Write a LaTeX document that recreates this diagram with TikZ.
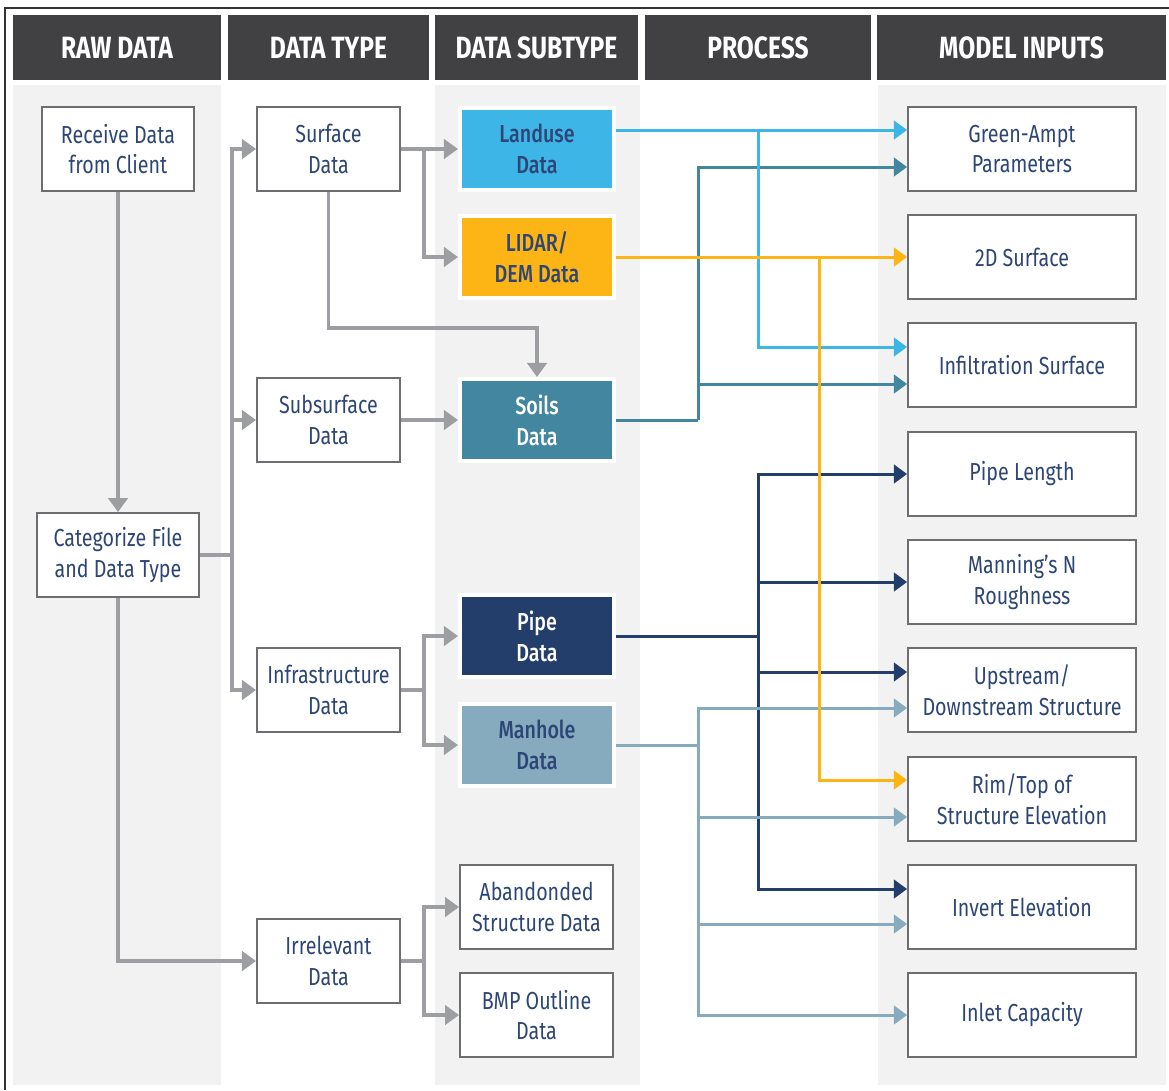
\documentclass[tikz,border=0pt]{standalone}
\usepackage{fontspec}
\setmainfont{Fira Sans}[FakeStretch=0.8]
\newfontfamily\medfont{Fira Sans Medium}[FakeStretch=0.8]
\usetikzlibrary{arrows.meta}
\usetikzlibrary{positioning}

\definecolor{headgrey}{HTML}{414042}
\definecolor{bggrey}{HTML}{F2F2F2}
\definecolor{boxgrey}{HTML}{6D6E71}
\definecolor{linkgrey}{HTML}{9C9EA1}
\definecolor{navytext}{HTML}{2E4676}
\definecolor{landblue}{HTML}{3DB5E7}
\definecolor{lidaryellow}{HTML}{FDB515}
\definecolor{soilteal}{HTML}{43869F}
\definecolor{pipenavy}{HTML}{243E6C}
\definecolor{manholesteel}{HTML}{86AABE}

\tikzstyle{head}=[fill=headgrey, text=white, font=\bfseries\fontsize{17.5}{20}\selectfont, minimum height=1.3cm, inner sep=0pt]
\tikzstyle{box}=[draw=boxgrey, line width=1.1pt, fill=white, text=navytext, align=center, font=\fontsize{14}{17.5}\selectfont, minimum height=1.68cm, inner sep=0pt]
\tikzstyle{subbox}=[box, draw=white, line width=2.3pt, minimum width=3.08cm, minimum height=1.64cm, font=\medfont\fontsize{14}{17.5}\selectfont]
\tikzstyle{link}=[draw=linkgrey, line width=2pt, -{Triangle[length=8pt,width=11pt]}]
\tikzstyle{flow}=[line width=1.7pt, -{Triangle[length=7.5pt,width=10.5pt]}]

\begin{document}
\begin{tikzpicture}[x=0.02cm, y=-0.02cm]

  \useasboundingbox (0,0) rectangle (1169,1090);

  % column backgrounds and frame
  \foreach \xa/\xb in {13/221, 435/640, 878/1166}
    \fill[bggrey] (\xa,85) rectangle (\xb,1085);
  \draw[line width=1.2pt, black!80] (5,1090) -- (5,8) -- (1169,8);

  % headers
  \foreach \x/\w/\name/\label in {117/208/hraw/RAW DATA, 328.5/201/htype/DATA TYPE, 536.5/203/hsub/DATA SUBTYPE, 758/226/hproc/PROCESS, 1021.5/289/hinp/MODEL INPUTS}
    \node[head, minimum width=\w*0.02cm] (\name) at (\x,47.5) {\label};

  % raw data
  \node[box, minimum width=3.04cm] (recv) at (118,149) {Receive Data\\from Client};
  \node[box, minimum width=3.24cm] (cat) at (118,555) {Categorize File\\and Data Type};

  % data types
  \foreach \y/\name/\label in {149/surf/{Surface\\Data}, 420/subs/{Subsurface\\Data}, 690/infra/{Infrastructure\\Data}, 961/irr/{Irrelevant\\Data}}
    \node[box, minimum width=2.86cm] (\name) at (328.5,\y) {\label};

  % data subtypes
  \foreach \y/\name/\col/\tcol/\label in {149/land/landblue/navytext/{Landuse\\Data}, 257/lidar/lidaryellow/navytext/{LIDAR/\\DEM Data}, 420/soils/soilteal/white/{Soils\\Data}, 636/pipe/pipenavy/white/{Pipe\\Data}, 745/manh/manholesteel/navytext/{Manhole\\Data}}
    \node[subbox, fill=\col, text=\tcol] (\name) at (537,\y) {\label};
  \node[box, minimum width=3.06cm] (aband) at (536.5,907) {Abandonded\\Structure Data};
  \node[box, minimum width=3.06cm] (bmp) at (536.5,1015) {BMP Outline\\Data};

  % model inputs
  \foreach \y/\name/\label in {149/ga/{Green-Ampt\\Parameters}, 257/sd/{2D Surface}, 365/inf/{Infiltration Surface}, 474/plen/{Pipe Length}, 582/mann/{Manning’s N\\Roughness}, 690/ups/{Upstream/\\Downstream Structure}, 799/rim/{Rim/Top of\\Structure Elevation}, 907/inv/{Invert Elevation}, 1015/inl/{Inlet Capacity}}
    \node[box, minimum width=4.56cm] (\name) at (1022,\y) {\label};

  % grey links
  \coordinate (tj) at (232,555);
  \coordinate (sj) at (424,149);
  \coordinate (sbend) at (537,328);
  \coordinate (ij) at (424,690);
  \coordinate (rj) at (424,961);
  \draw[link] (recv) -- (cat);
  \draw[link, -] (cat.east) -- (tj);
  \foreach \dest in {surf, subs, infra}
    \draw[link] (tj) |- (\dest.west);
  \draw[link] (cat.south) |- (irr.west);
  \draw[link] (surf) -- (land);
  \draw[link] (sj) |- (lidar.west);
  \draw[link] (surf.south) |- (sbend) -- (soils.north);
  \draw[link] (subs) -- (soils);
  \draw[link, -] (infra.east) -- (ij);
  \foreach \dest in {pipe, manh}
    \draw[link] (ij) |- (\dest.west);
  \draw[link, -] (irr.east) -- (rj);
  \foreach \dest in {aband, bmp}
    \draw[link] (rj) |- (\dest.west);

  % coloured flows
  \coordinate (tlj) at (698,420);
  \coordinate (lbj) at (758,130);
  \coordinate (ylj) at (819,257);
  \coordinate (pj) at (758,636);
  \coordinate (mj) at (698,745);

  \draw[flow, -, soilteal] (soils.east) -- (tlj);
  \draw[flow, soilteal] (tlj) |- ([yshift=-0.36cm]ga.west);
  \draw[flow, soilteal] (tlj) |- ([yshift=-0.38cm]inf.west);

  \draw[flow, landblue] ([yshift=0.38cm]land.east) -- ([yshift=0.38cm]ga.west);
  \draw[flow, landblue] (lbj) |- ([yshift=0.36cm]inf.west);

  \draw[flow, -, pipenavy] (pipe.east) -- (pj);
  \foreach \dest/\dy in {plen/0, mann/0, ups/0.36, inv/0.36}
    \draw[flow, pipenavy] (pj) |- ([yshift=\dy cm]\dest.west);

  \draw[flow, -, manholesteel] (manh.east) -- (mj);
  \foreach \dest/\dy in {ups/-0.36, rim/-0.36, inv/-0.34, inl/0}
    \draw[flow, manholesteel] (mj) |- ([yshift=\dy cm]\dest.west);

  \draw[flow, lidaryellow] (lidar) -- (sd);
  \draw[flow, lidaryellow] (ylj) |- ([yshift=0.38cm]rim.west);

\end{tikzpicture}
\end{document}
